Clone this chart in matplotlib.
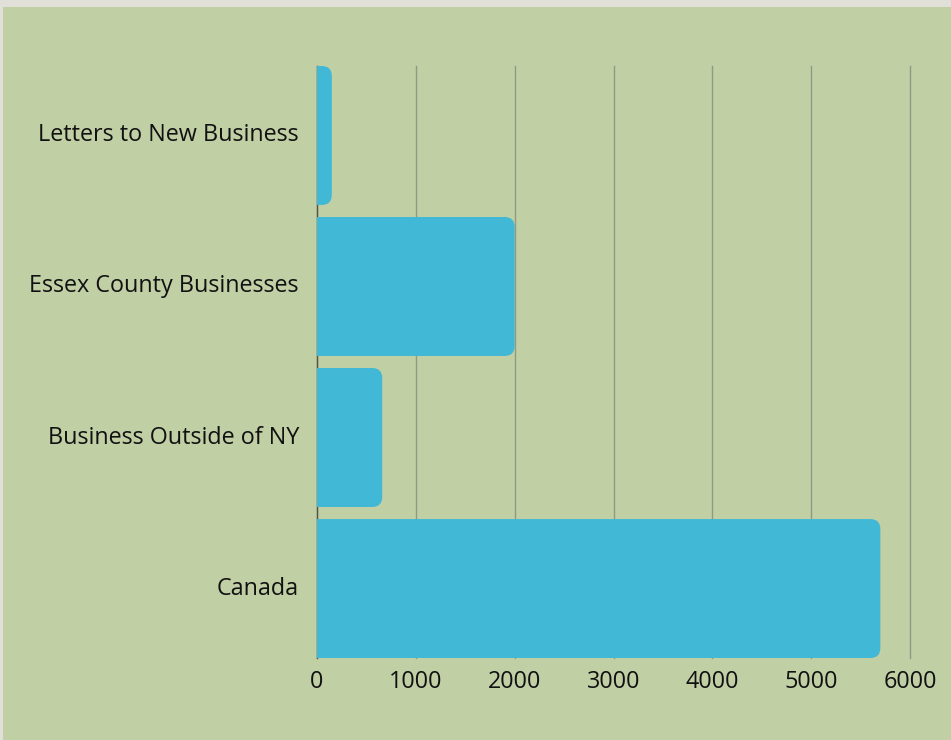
import matplotlib.pyplot as plt
from matplotlib.patches import FancyBboxPatch, Rectangle
from matplotlib.transforms import ScaledTranslation

plt.rcParams['font.family'] = ['Open Sans', 'DejaVu Sans']

categories = ['Letters to New Business', 'Essex County Businesses',
              'Business Outside of NY', 'Canada']
values = [150, 2000, 660, 5700]
xticks = [0, 1000, 2000, 3000, 4000, 5000, 6000]

bg = '#c1cfa5'
bar_color = '#41b8d6'

fig = plt.figure(figsize=(9.51, 7.40), dpi=100)
fig.patch.set_facecolor('#e0e0d8')
# green panel with thin light frame top / left
fig.patches.append(Rectangle((3 / 951, 0), 1, 1 - 7 / 740, transform=fig.transFigure,
                             facecolor=bg, edgecolor='none', zorder=-5))

ax = fig.add_axes([317 / 951, 1 - 658 / 740, 593 / 951, 592 / 740])
ax.set_zorder(1)
ax.patch.set_alpha(0)

h = 0.92
ax.set_xlim(0, 6000)
ax.set_ylim(len(categories) - 1 + h / 2, -h / 2)

# rounded right ends: radius ~10px in both directions
px_x = 6000 / 593
px_y = (len(categories) - 1 + h) / 592
r = 10 * px_x
aspect = px_y / px_x
for i, v in enumerate(values):
    p = FancyBboxPatch((-300, i - h / 2), v + 300, h,
                       boxstyle=f"round,pad=0,rounding_size={r}",
                       mutation_aspect=aspect, facecolor=bar_color,
                       edgecolor='none', zorder=2)
    ax.add_patch(p)

ax.set_yticks(range(len(categories)))
ax.set_yticklabels(categories)
ax.set_xticks(xticks)
ax.grid(axis='x', color='#8e9a84', linewidth=1, zorder=1)
for gl in ax.get_xgridlines():
    gl.set_clip_on(False)
ax.set_axisbelow(True)
ax.tick_params(length=0, labelsize=16.8, colors='#111111')
ax.tick_params(axis='y', pad=13)
ax.tick_params(axis='x', pad=8.5)
up = ScaledTranslation(0, 3 / 100, fig.dpi_scale_trans)
for lab in ax.get_yticklabels():
    lab.set_transform(lab.get_transform() + up)
for s in ['top', 'right', 'bottom']:
    ax.spines[s].set_visible(False)
ax.spines['left'].set_color('#555544')
ax.spines['left'].set_linewidth(1)
ax.spines['left'].set_zorder(1.5)

fig.savefig('out.png', dpi=100, facecolor=fig.get_facecolor())
